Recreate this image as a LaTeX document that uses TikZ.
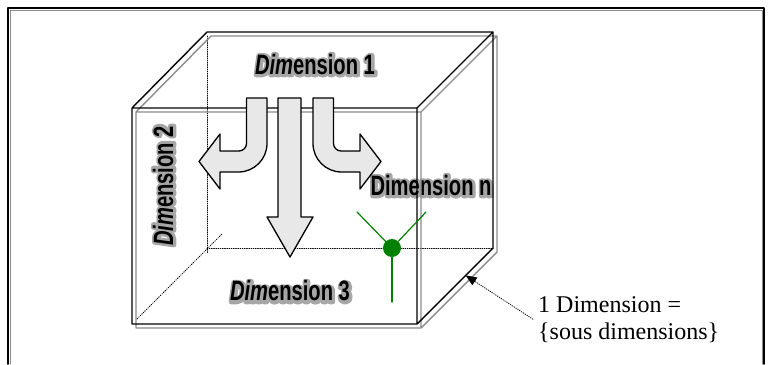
\documentclass[tikz,border=0pt]{standalone}
\usepackage{fontspec}
\setmainfont{Liberation Serif}
\newfontfamily\dimfont[FakeStretch=0.72,ItalicFont={Liberation Sans Bold Italic}]{Liberation Sans Bold}
\newfontfamily\dimglowfont[FakeStretch=0.72,FakeBold=18,ItalicFont={Liberation Sans Bold Italic}]{Liberation Sans Bold}
\usetikzlibrary{arrows.meta,calc,positioning}
\definecolor{dimInk}{HTML}{000000}
\definecolor{dimGrey}{HTML}{8C8C8C}
\definecolor{dimGlow}{HTML}{A6A6A6}
\definecolor{dimFill}{HTML}{E8E8E8}
\definecolor{dimGreen}{HTML}{008000}
\newcommand\glowlabel[4]{%
  \node[dimlabel,font=\dimglowfont\fontsize{28}{28}\selectfont,text=dimGlow,rotate=#3,shift={(0.8,0.8)}] (#1glow) at (#2) {#4};
  \node[dimlabel,rotate=#3] (#1) at (#2) {#4};}

\begin{document}
\begin{tikzpicture}[x=1pt,y=-1pt,>=Latex,line cap=round,line join=round]
\useasboundingbox[fill=white] (0,0) rectangle (768,364);
\tikzset{edge/.style={line width=1.4pt},hidden/.style={draw=dimInk,line width=0.8pt,dash pattern=on 0.8pt off 1.4pt},blockarrow/.style={draw=dimInk,fill=dimFill,line width=1.3pt},dimlabel/.style={font=\dimfont\fontsize{28}{28}\selectfont,inner sep=0pt,text=dimInk},greenline/.style={draw=dimGreen,line width=1.2pt}}
\draw[draw=dimGrey,line width=1pt] (10,364) -- (10,10) -- (762,10) -- (762,364);
\draw[draw=dimInk,line width=1.5pt] (8,364) -- (8,8) -- (764,8) -- (764,364);
\draw[hidden] (207,36) -- (207,253); \draw[hidden] (207,248) -- (493,248); \draw[hidden] (137,319) -- (222,234);
\glowlabel{dimOne}{315,64}{0}{{\itshape Dim}ension 1}
\glowlabel{dimTwo}{163,186}{90}{{\itshape Dim}ension 2}
\glowlabel{dimThree}{290,291}{0}{{\itshape Dim}ension 3}
\glowlabel{dimN}{431,185}{0}{Dimension n}
\foreach \d/\c in {4/dimGrey,0/dimInk}{
  \begin{scope}[shift={(\d,\d)}]
  \draw[edge,draw=\c] (132,108) rectangle (417,324) (132,108) -- (207,32) -- (493,32) -- (417,108) (493,32) -- (493,248) -- (417,324);
  \end{scope}}
\coordinate (fbr) at (417,324); \coordinate (bbr) at (493,248);
\foreach \s in {1,-1}{
  \begin{scope}[shift={(290,0)},xscale=\s]
  \path[blockarrow] (-43.5,98) -- (-23,98) -- (-23,143.5) .. controls (-23,159.2) and (-35.8,172) .. (-51.5,172) -- (-70,172) -- (-70,189) -- (-91,161.5) -- (-70,134) -- (-70,151) -- (-51,151) .. controls (-46.9,151) and (-43.5,147.6) .. (-43.5,143.5) -- cycle;
  \end{scope}}
\path[blockarrow] (278,98) -- (301,98) -- (301,217) -- (313,217) -- (290,257) -- (267,217) -- (278,217) -- cycle;
\node[circle,fill=dimGreen,minimum size=18pt,inner sep=0pt] (hub) at (392,248) {};
\coordinate (hubA) at (357,212); \coordinate (hubB) at (426,212); \coordinate (hubC) at (392,302);
\draw[greenline] (hub) -- (hubA); \draw[greenline] (hub) -- (hubB); \draw[greenline] (hub) -- (hubC);
\node[anchor=north west,inner sep=5pt,align=left,font=\fontsize{24}{27}\selectfont] (note) at (533,291) {1 Dimension =\\\{sous dimensions\}};
\coordinate (edgemark) at ($(fbr)!0.64!(bbr)$);
\draw[hidden,-{Triangle[length=11pt,width=9pt]}] (note.west) -- (edgemark);
\end{tikzpicture}
\end{document}
